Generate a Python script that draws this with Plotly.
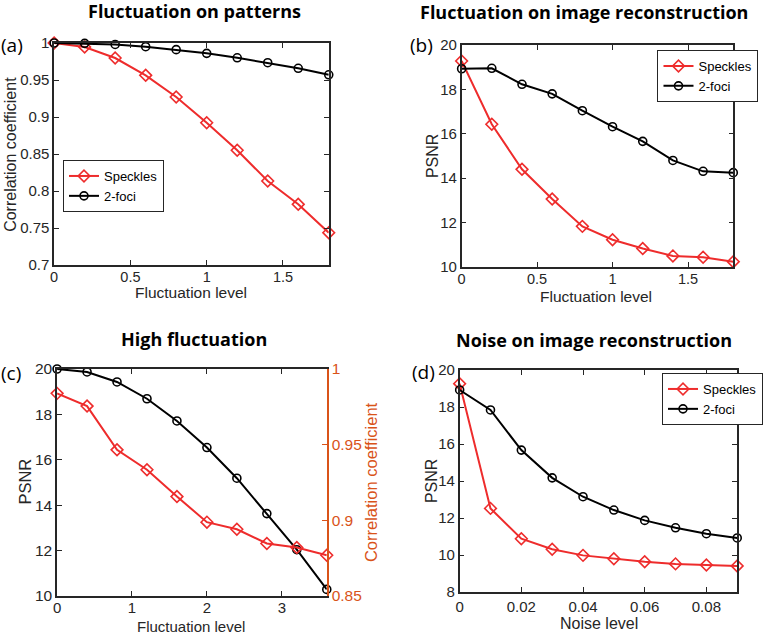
import plotly.graph_objects as go

W, H = 763, 636

# ---------------- data ----------------
fluct_a = [0, 0.2, 0.4, 0.6, 0.8, 1.0, 1.2, 1.4, 1.6, 1.8]
a_speckles = [1.0, 0.9946, 0.9797, 0.9563, 0.927, 0.8923, 0.855, 0.8135, 0.782, 0.7437]
a_foci = [1.0, 0.9995, 0.998, 0.995, 0.991, 0.986, 0.980, 0.9734, 0.9658, 0.957]

fluct_b = [0, 0.2, 0.4, 0.6, 0.8, 1.0, 1.2, 1.4, 1.6, 1.8]
b_speckles = [19.28, 16.43, 14.40, 13.06, 11.83, 11.23, 10.83, 10.50, 10.44, 10.24]
b_foci = [18.93, 18.95, 18.23, 17.80, 17.04, 16.32, 15.66, 14.80, 14.31, 14.25]

fluct_c = [0, 0.4, 0.8, 1.2, 1.6, 2.0, 2.4, 2.8, 3.2, 3.6]
c_psnr = [20.0, 19.87, 19.43, 18.69, 17.71, 16.54, 15.19, 13.63, 12.04, 10.29]
c_corr = [0.9839, 0.9755, 0.9466, 0.9334, 0.9157, 0.8988, 0.8941, 0.8847, 0.882, 0.8769]

noise_d = [0, 0.01, 0.02, 0.03, 0.04, 0.05, 0.06, 0.07, 0.08, 0.09]
d_speckles = [19.26, 12.52, 10.88, 10.31, 9.98, 9.80, 9.64, 9.52, 9.46, 9.41]
d_foci = [18.92, 17.84, 15.67, 14.17, 13.15, 12.43, 11.87, 11.47, 11.15, 10.92]

titles = ["Fluctuation on patterns", "Fluctuation on image reconstruction",
          "High fluctuation", "Noise on image reconstruction"]
panel_labels = ["(a)", "(b)", "(c)", "(d)"]

# ---------------- style ----------------
RED = "#EE2C2C"
BLACK = "#000000"
ORANGE = "#D95319"
AX = "#262626"
FONT = "Liberation Sans, Arial, sans-serif"
TFONT = "Open Sans, sans-serif"


def dom_x(x0, x1):
    return [x0 / W, x1 / W]


def dom_y(y0, y1):
    return [1 - y1 / H, 1 - y0 / H]


def spk(x, y, xa, ya, legend=None, show=True):
    return go.Scatter(x=x, y=y, xaxis=xa, yaxis=ya, name="Speckles", mode="lines+markers",
                      line=dict(color=RED, width=2),
                      marker=dict(symbol="diamond-open", size=9, color=RED, line=dict(width=1.6, color=RED)),
                      cliponaxis=False, showlegend=show, legend=legend)


def foc(x, y, xa, ya, legend=None, show=True):
    return go.Scatter(x=x, y=y, xaxis=xa, yaxis=ya, name="2-foci", mode="lines+markers",
                      line=dict(color=BLACK, width=2),
                      marker=dict(symbol="circle-open", size=8, color=BLACK, line=dict(width=1.6, color=BLACK)),
                      cliponaxis=False, showlegend=show, legend=legend)


fig = go.Figure()
fig.add_trace(spk(fluct_a, a_speckles, "x", "y", "legend"))
fig.add_trace(foc(fluct_a, a_foci, "x", "y", "legend"))
fig.add_trace(spk(fluct_b, b_speckles, "x2", "y2", "legend2"))
fig.add_trace(foc(fluct_b, b_foci, "x2", "y2", "legend2"))
fig.add_trace(foc(fluct_c, c_psnr, "x3", "y3", show=False))
fig.add_trace(spk(fluct_c, c_corr, "x3", "y5", show=False))
fig.add_trace(spk(noise_d, d_speckles, "x4", "y4", "legend3"))
fig.add_trace(foc(noise_d, d_foci, "x4", "y4", "legend3"))


def axis(domain, rng, tickvals, ticktext=None, anchor=None, mirror="ticks", color=AX, size=15, **kw):
    d = dict(domain=domain, range=rng, tickvals=tickvals, showline=True, linecolor=color,
             linewidth=1.5, mirror=mirror, ticks="inside", ticklen=5, tickwidth=1,
             tickcolor=color, showgrid=False, zeroline=False, automargin=False,
             tickfont=dict(family=FONT, size=size, color=color), anchor=anchor)
    if ticktext is not None:
        d["ticktext"] = ticktext
    d.update(kw)
    return d


fx = [0, 0.5, 1, 1.5]
fig.update_layout(
    xaxis=axis(dom_x(55, 334), [0, 1.8], fx, ["0", "0.5", "1", "1.5"], "y", size=14.5,
               ticklabelstandoff=-2),
    yaxis=axis(dom_y(43, 265), [0.7, 1.0], [0.7, 0.75, 0.8, 0.85, 0.9, 0.95, 1.0],
               ["0.7", "0.75", "0.8", "0.85", "0.9", "0.95", "1"], "x"),
    xaxis2=axis(dom_x(469, 745), [0, 1.8], fx, ["0", "0.5", "1", "1.5"], "y2", size=14.5,
                ticklabelstandoff=-2),
    yaxis2=axis(dom_y(45, 267), [10, 20], [10, 12, 14, 16, 18, 20], None, "x2"),
    xaxis3=axis(dom_x(58, 332), [0, 3.6], [0, 1, 2, 3], None, "y3", size=15,
                ticklabelstandoff=-3),
    yaxis3=axis(dom_y(369, 596), [10, 20], [10, 12, 14, 16, 18, 20], None, "x3", mirror=False,
                size=15.5),
    yaxis5=axis(dom_y(369, 596), [0.85, 1.0], [0.85, 0.9, 0.95, 1.0], ["0.85", "0.9", "0.95", "1"],
                "x3", mirror=False, color=ORANGE, side="right", overlaying="y3", size=15.5),
    xaxis4=axis(dom_x(467, 749), [0, 0.09], [0, 0.02, 0.04, 0.06, 0.08], None, "y4"),
    yaxis4=axis(dom_y(370, 592), [8, 20], [8, 10, 12, 14, 16, 18, 20], None, "x4"),
)

leg = dict(bordercolor=AX, borderwidth=1, bgcolor="white", font=dict(family=FONT, size=13, color="#000"),
           itemwidth=30, tracegroupgap=0, xanchor="left", yanchor="top", xref="paper", yref="paper")
fig.update_layout(
    legend=dict(leg, x=64 / W, y=1 - 160 / H),
    legend2=dict(leg, x=668 / W, y=1 - 50 / H),
    legend3=dict(leg, x=673 / W, y=1 - 373 / H),
)

annots = []


def txt(t, x, y, size, family=FONT, color=AX, angle=0):
    annots.append(dict(text=t, x=x / W, y=1 - y / H, xref="paper", yref="paper",
                       xanchor="center", yanchor="middle", showarrow=False, textangle=angle,
                       font=dict(family=family, size=size, color=color)))


# chart titles
for t, (x, y) in zip(titles, [(198, 11), (593, 12), (197, 339), (603, 340)]):
    txt("<b>" + t + "</b>", x, y, 18, TFONT, "#000")
# panel labels
for t, (x, y) in zip(panel_labels, [(12, 45), (428, 45), (11, 373), (430, 372)]):
    txt(t, x, y, 19, TFONT, "#000")
# axis titles
txt("Fluctuation level", 194, 292, 15.5)
txt("Correlation coefficient", 10, 154, 16, angle=-90)
txt("Fluctuation level", 606, 296, 15.5)
txt("PSNR", 440, 156, 16, angle=-90)
txt("Fluctuation level", 194, 626, 15)
txt("PSNR", 25, 482, 16.5, angle=-90)
txt("Correlation coefficient", 377, 482, 16.5, color=ORANGE, angle=-90)
txt("Noise level", 609, 623, 16)
txt("PSNR", 438, 481, 16, angle=-90)

fig.update_layout(width=W, height=H, margin=dict(l=0, r=0, t=0, b=0), autosize=False,
                  paper_bgcolor="white", plot_bgcolor="white", annotations=annots)

fig.write_html("out.html")
